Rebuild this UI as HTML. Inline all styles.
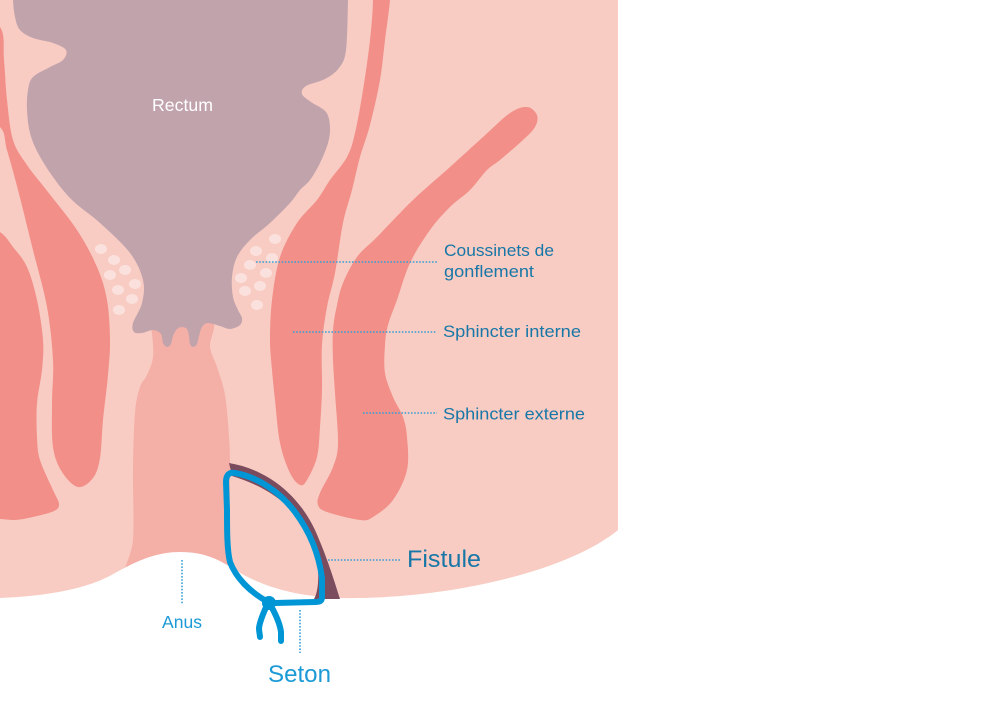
<!DOCTYPE html>
<html>
<head>
<meta charset="utf-8">
<style>
  html,body{margin:0;padding:0;background:#fff;}
  svg{display:block;}
  text{font-family:"Liberation Sans", "DejaVu Sans", sans-serif;}
</style>
</head>
<body>
<svg width="1003" height="721" viewBox="0 0 1003 721" xmlns="http://www.w3.org/2000/svg">
  <rect x="0" y="0" width="1003" height="721" fill="#ffffff"/>
  <!-- pink base -->
  <rect x="0" y="0" width="618" height="610" fill="#f8ccc3"/>

  <!-- red muscles -->
  <path class="s" fill="#f28f89" d="M -30,10 L 0,27 L 4,60 L 7,100 L 13,140 L 27,165 L 48,192 L 77,230 L 97,267 L 107,300 L 110,340 L 108,375 L 103,420 L 100,458 L 93,478 L 78,487 L 62,472 L 53,447 L 52,403 L 53,360 L 47,307 L 33,250 L 18,190 L 7,150 L 0,127 L -30,110 Z"/>
  <path class="s" fill="#f28f89" d="M -30,215 L 0,232 L 13,247 L 27,267 L 37,300 L 43,340 L 42,370 L 37,403 L 37,437 L 40,460 L 53,490 L 59,504 L 54,511 L 33,517 L 15,520 L 0,519 L -30,518 Z"/>
  <path class="s" fill="#f28f89" d="M 372,-30 L 373,0 L 370,40 L 363,90 L 355,133 L 347,157 L 330,180 L 317,200 L 297,223 L 280,257 L 272,300 L 270,340 L 272,370 L 275,400 L 280,443 L 290,473 L 300,485 L 307,480 L 317,457 L 320,427 L 322,390 L 322,345 L 327,307 L 335,273 L 343,223 L 352,190 L 360,157 L 370,125 L 380,80 L 385,40 L 390,0 L 391,-30 Z"/>
  <path class="s" fill="#f28f89" d="M 527,107 L 510,113 L 483,137 L 450,167 L 413,200 L 377,237 L 357,257 L 343,283 L 337,305 L 333,330 L 333,360 L 335,393 L 338,443 L 333,467 L 320,493 L 318,505 L 327,512 L 360,520 L 373,517 L 393,500 L 407,470 L 407,437 L 403,417 L 393,397 L 385,373 L 385,345 L 388,325 L 397,300 L 410,263 L 430,230 L 450,207 L 470,190 L 487,170 L 500,160 L 523,140 L 535,127 L 537,115 Z"/>

  <!-- anal canal -->
  <path class="s" fill="#f4afa7" d="M 150,318 L 210,318 L 210,347 L 217,367 L 225,395 L 229,437 L 230,470 L 229,560 L 228,600 L 125,600 L 133,540 L 133,470 L 135,413 L 140,387 L 147,375 L 153,357 L 152,333 Z"/>

  <!-- rectum -->
  <path class="s" fill="#c1a3ac" d="M 13,-20 L 13,0 L 15,17 L 20,30 L 33,38 L 53,43 L 66,50 L 63,60 L 50,67 L 33,77 L 28,90 L 27,110 L 30,133 L 38,153 L 53,177 L 72,200 L 100,223 L 130,253 L 143,280 L 142,303 L 133,323 L 134,332 L 142,333 L 153,330 L 161,334 L 163,343 L 167,347 L 171,344 L 173,336 L 177,329 L 182,327 L 187,329 L 189,336 L 190,344 L 193,347 L 197,344 L 199,336 L 202,327 L 208,323 L 220,326 L 230,329 L 240,325 L 242,318 L 238,310 L 233,297 L 232,277 L 237,257 L 250,240 L 270,223 L 290,203 L 300,190 L 310,180 L 320,163 L 328,143 L 330,127 L 326,112 L 311,102 L 302,94 L 306,86 L 325,79 L 339,68 L 346,50 L 348,0 L 348,-20 Z"/>

  <!-- cushion dots -->
  <g fill="#fbe1dd">
    <ellipse cx="101" cy="249" rx="6" ry="5"/>
    <ellipse cx="114" cy="260" rx="6" ry="5"/>
    <ellipse cx="125" cy="270" rx="6" ry="5"/>
    <ellipse cx="110" cy="275" rx="6" ry="5"/>
    <ellipse cx="135" cy="284" rx="6" ry="5"/>
    <ellipse cx="118" cy="290" rx="6" ry="5"/>
    <ellipse cx="132" cy="299" rx="6" ry="5"/>
    <ellipse cx="119" cy="310" rx="6" ry="5"/>
    <ellipse cx="275" cy="239" rx="6" ry="5"/>
    <ellipse cx="256" cy="251" rx="6" ry="5"/>
    <ellipse cx="272" cy="258" rx="6" ry="5"/>
    <ellipse cx="250" cy="265" rx="6" ry="5"/>
    <ellipse cx="266" cy="273" rx="6" ry="5"/>
    <ellipse cx="241" cy="278" rx="6" ry="5"/>
    <ellipse cx="260" cy="286" rx="6" ry="5"/>
    <ellipse cx="245" cy="291" rx="6" ry="5"/>
    <ellipse cx="257" cy="305" rx="6" ry="5"/>
  </g>

  <!-- white bottom / right -->
  <path fill="#ffffff" d="M 0,598 C 50,596 90,588 115,573 C 135,562 155,552 180,552 C 205,552 220,560 235,570 C 260,585 290,596 340,598 C 450,600 570,570 618,530 L 618,0 L 1003,0 L 1003,721 L 0,721 Z"/>

  <!-- fistula -->
  <path fill="#7b4b5e" d="M 229,463 C 265,469 297,492 315,530 C 327,557 334,580 340,599 L 314,599 C 319,591 319,572 317,560 C 311,527 288,493 232,476 Z"/>

  <!-- seton -->
  <g fill="none" stroke="#0096d6" stroke-width="6" stroke-linecap="round" stroke-linejoin="round">
    <path d="M 268,602 C 250,592 236,578 230,562 C 227,550 227,530 227,510 L 226,482 C 226,475 229,472 235,473 C 258,477 280,492 295,512 C 310,532 319,555 322,578 L 322,597 C 322,601 320,602 315,602 L 275,603"/>
    <path d="M 267,605 C 264,612 260,620 259,628 C 259,632 260,635 260,637"/>
    <path d="M 271,606 C 276,615 280,624 281,632 L 281,641"/>
  </g>
  <circle cx="269" cy="603" r="7" fill="#0096d6"/>

  <!-- leaders -->
  <g stroke="#3a9fd6" stroke-width="1.6" stroke-dasharray="1.6,1.6" fill="none">
    <line x1="256" y1="262" x2="437" y2="262"/>
    <line x1="293" y1="332" x2="437" y2="332"/>
    <line x1="363" y1="413" x2="437" y2="413"/>
    <line x1="328" y1="560" x2="400" y2="560"/>
    <line x1="182" y1="560" x2="182" y2="604"/>
    <line x1="300" y1="610" x2="300" y2="653"/>
  </g>

  <!-- labels -->
  <text x="152" y="111" font-size="17.5" fill="#ffffff" textLength="61" lengthAdjust="spacingAndGlyphs">Rectum</text>
  <text x="444" y="256" font-size="17" fill="#1877a7" textLength="110" lengthAdjust="spacingAndGlyphs">Coussinets de</text>
  <text x="444" y="277" font-size="17" fill="#1877a7" textLength="90" lengthAdjust="spacingAndGlyphs">gonflement</text>
  <text x="443" y="337" font-size="17" fill="#1877a7" textLength="138" lengthAdjust="spacingAndGlyphs">Sphincter interne</text>
  <text x="443" y="419.5" font-size="17" fill="#1877a7" textLength="142" lengthAdjust="spacingAndGlyphs">Sphincter externe</text>
  <text x="407" y="567" font-size="24" fill="#1877a7" textLength="74" lengthAdjust="spacingAndGlyphs">Fistule</text>
  <text x="162" y="628" font-size="17.5" fill="#1c9ad6" textLength="40" lengthAdjust="spacingAndGlyphs">Anus</text>
  <text x="268" y="682" font-size="24" fill="#1c9ad6" textLength="63" lengthAdjust="spacingAndGlyphs">Seton</text>
</svg>
<script>
(function(){
  var paths=document.querySelectorAll('path.s');
  for(var k=0;k<paths.length;k++){
    var p=paths[k];
    var nums=p.getAttribute('d').match(/-?\d+(\.\d+)?/g).map(Number);
    var pts=[];for(var i=0;i+1<nums.length;i+=2)pts.push([nums[i],nums[i+1]]);
    var n=pts.length;var d='M'+pts[0][0]+','+pts[0][1];
    for(var i=0;i<n;i++){
      var p0=pts[(i-1+n)%n],p1=pts[i],p2=pts[(i+1)%n],p3=pts[(i+2)%n];
      var c1x=p1[0]+(p2[0]-p0[0])/6,c1y=p1[1]+(p2[1]-p0[1])/6;
      var c2x=p2[0]-(p3[0]-p1[0])/6,c2y=p2[1]-(p3[1]-p1[1])/6;
      d+=' C'+c1x.toFixed(2)+','+c1y.toFixed(2)+' '+c2x.toFixed(2)+','+c2y.toFixed(2)+' '+p2[0]+','+p2[1];
    }
    p.setAttribute('d',d+'Z');
  }
})();
</script>
</body>
</html>
